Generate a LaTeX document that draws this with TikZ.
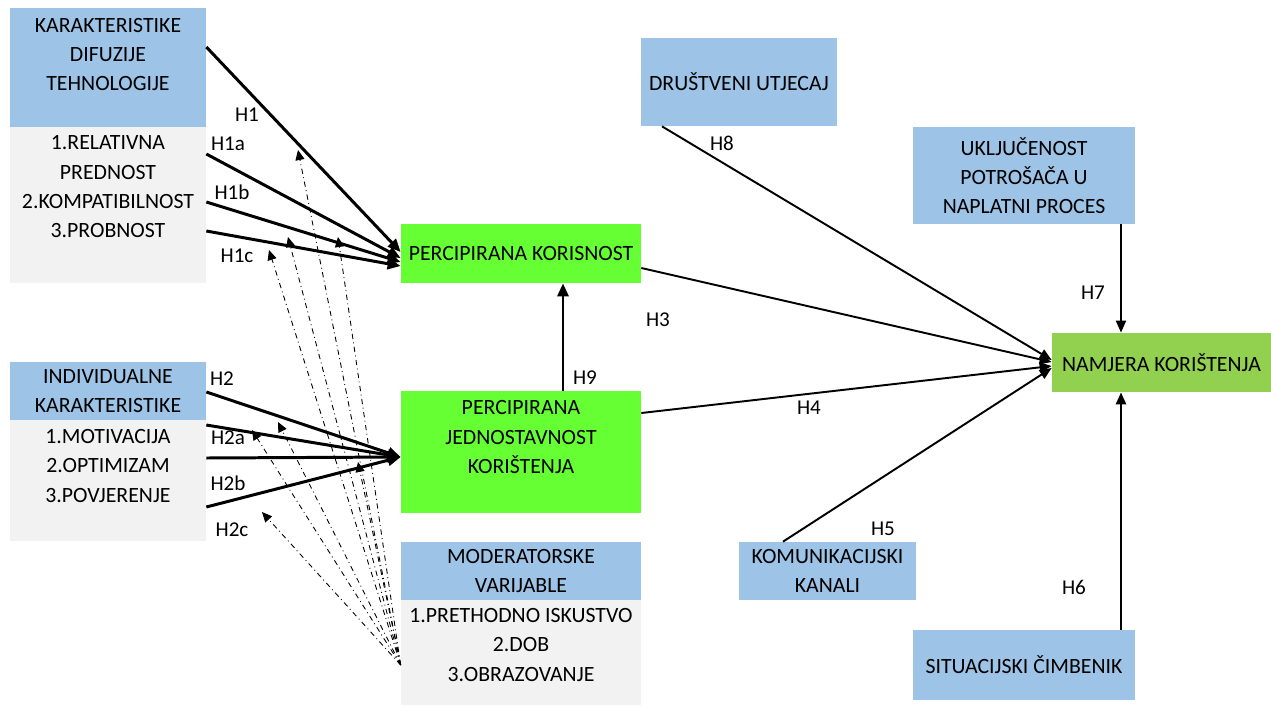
\documentclass[tikz,border=0pt]{standalone}
\usepackage{fontspec}
\setmainfont{Carlito}
\usetikzlibrary{arrows.meta, positioning}

\definecolor{headblue}{HTML}{9DC3E6}
\definecolor{itemgray}{HTML}{F2F2F2}
\definecolor{litegreen}{HTML}{66FF33}
\definecolor{goalgreen}{HTML}{92D050}

\tikzset{
  txtbox/.style={rectangle, inner sep=0pt, align=center, font=\fontsize{12.4}{16.7}\selectfont},
  headbox/.style={txtbox, fill=headblue},
  itembox/.style={txtbox, fill=itemgray},
  tambox/.style={txtbox, fill=litegreen},
  goalbox/.style={txtbox, fill=goalgreen},
  hyp/.style={inner sep=0pt, font=\fontsize{12}{14}\selectfont},
  strong/.style={line width=1.7pt, -{Triangle[length=2.6mm,width=2.2mm]}},
  weak/.style={line width=1.1pt, -{Triangle[length=2.4mm,width=2mm]}},
  moder/.style={line width=0.5pt, dash dot, -{Triangle[length=2mm,width=1.8mm]}},
}

\begin{document}
\begin{tikzpicture}[x=0.2mm, y=-0.2mm]
        \useasboundingbox (0,0) rectangle (1271,706);

        % left blocks
        \node[headbox, minimum width=39.2mm, minimum height=23.8mm] (kdt) at (108,67.5) {};
        \node[txtbox] (kdtt) at (108,54.5) {KARAKTERISTIKE\\DIFUZIJE\\TEHNOLOGIJE};
        \node[itembox, minimum width=39.2mm, minimum height=31.2mm] (kdtl) at (108,205) {};
        \node[txtbox] (kdtlt) at (108,187) {1.RELATIVNA\\PREDNOST\\2.KOMPATIBILNOST\\3.PROBNOST};

        \node[headbox, minimum width=39.2mm, minimum height=11.6mm] (ik) at (108,391) {INDIVIDUALNE\\KARAKTERISTIKE};
        \node[itembox, minimum width=39.2mm, minimum height=24.2mm] (ikl) at (108,480.5) {};
        \node[txtbox] (iklt) at (108,466) {1.MOTIVACIJA\\2.OPTIMIZAM\\3.POVJERENJE};

        % middle blocks
        \node[tambox, minimum width=48mm, minimum height=11.8mm] (pk) at (521,253.5) {PERCIPIRANA KORISNOST};
        \node[tambox, minimum width=48mm, minimum height=24.4mm] (pjk) at (521,452) {};
        \node[txtbox] (pjkt) at (521,437) {PERCIPIRANA\\JEDNOSTAVNOST\\KORIŠTENJA};
        \node[headbox, minimum width=48mm, minimum height=11.6mm] (mv) at (521,571) {MODERATORSKE\\VARIJABLE};
        \node[itembox, minimum width=48mm, minimum height=21mm] (mvl) at (521,652.5) {};
        \node[txtbox] (mvlt) at (521,645) {1.PRETHODNO ISKUSTVO\\2.DOB\\3.OBRAZOVANJE};

        % right blocks
        \node[headbox, minimum width=39.2mm, minimum height=17.6mm] (du) at (739,82) {DRUŠTVENI UTJECAJ};
        \node[headbox, minimum width=44.4mm, minimum height=19.4mm] (upnp) at (1024,175.5) {UKLJUČENOST\\POTROŠAČA U\\NAPLATNI PROCES};
        \node[goalbox, minimum width=43.8mm, minimum height=11.8mm] (nk) at (1161.5,362.5) {NAMJERA KORIŠTENJA};
        \node[headbox, minimum width=35.4mm, minimum height=11.6mm] (kk) at (827.5,571) {KOMUNIKACIJSKI\\KANALI};
        \node[headbox, minimum width=44.4mm, minimum height=14mm] (sc) at (1024,665) {SITUACIJSKI ČIMBENIK};

        % hypotheses
        \draw[strong] (kdt.east |- 0,47) -- (pk.west |- 0,252);
        \draw[strong] (kdtl.east |- 0,154) -- (pk.west |- 0,258);
        \draw[strong] (kdtl.east |- 0,202) -- (pk.west |- 0,262);
        \draw[strong] (kdtl.east |- 0,231) -- (pk.west |- 0,266);

        \draw[strong] (ik.east |- 0,392) -- (pjk.west |- 0,457);
        \draw[strong] (ikl.east |- 0,425) -- (pjk.west |- 0,457);
        \draw[strong] (ikl.east |- 0,458) -- (pjk.west |- 0,457);
        \draw[strong] (ikl.east |- 0,507) -- (pjk.west |- 0,457);

        \draw[strong] (pjk.north -| 563,0) -- (pk.south -| 563,0);

        \draw[weak] (pk.east |- 0,268) -- (nk.west |- 0,362);
        \draw[weak] (pjk.east |- 0,413) -- (nk.west |- 0,366);
        \draw[weak] (du.south -| 662,0) -- (nk.west |- 0,360);
        \draw[weak] (kk.north -| 783,0) -- (nk.west |- 0,368);
        \draw[weak] (upnp.south -| 1121,0) -- (nk.north -| 1121,0);
        \draw[weak, line width=1.4pt] (sc.north -| 1121,0) -- (nk.south -| 1121,0);

        % moderators
        \coordinate (mo) at (mvl.west |- 0,665);
        \foreach \px/\py [count=\i] in {298/150, 338/237, 288/237, 269/250, 278/422, 252/430, 358/462, 262/512} {
            \coordinate (d\i) at (\px,\py);
            \draw[moder] (mo) -- (d\i);
        }

        % labels
        \node[hyp] (h1) at (247,115) {H1};
        \node[hyp] (h1a) at (228,144) {H1a};
        \node[hyp] (h1b) at (232,192) {H1b};
        \node[hyp] (h1c) at (237,256) {H1c};
        \node[hyp] (h2) at (222,379) {H2};
        \node[hyp] (h2a) at (228,438) {H2a};
        \node[hyp] (h2b) at (228,483) {H2b};
        \node[hyp] (h2c) at (232,530) {H2c};
        \node[hyp] (h9) at (585,378) {H9};
        \node[hyp] (h3) at (658,320) {H3};
        \node[hyp] (h4) at (809,408) {H4};
        \node[hyp] (h8) at (722,143) {H8};
        \node[hyp] (h7) at (1093,293) {H7};
        \node[hyp] (h5) at (883,529) {H5};
        \node[hyp] (h6) at (1074,587) {H6};
\end{tikzpicture}
\end{document}
